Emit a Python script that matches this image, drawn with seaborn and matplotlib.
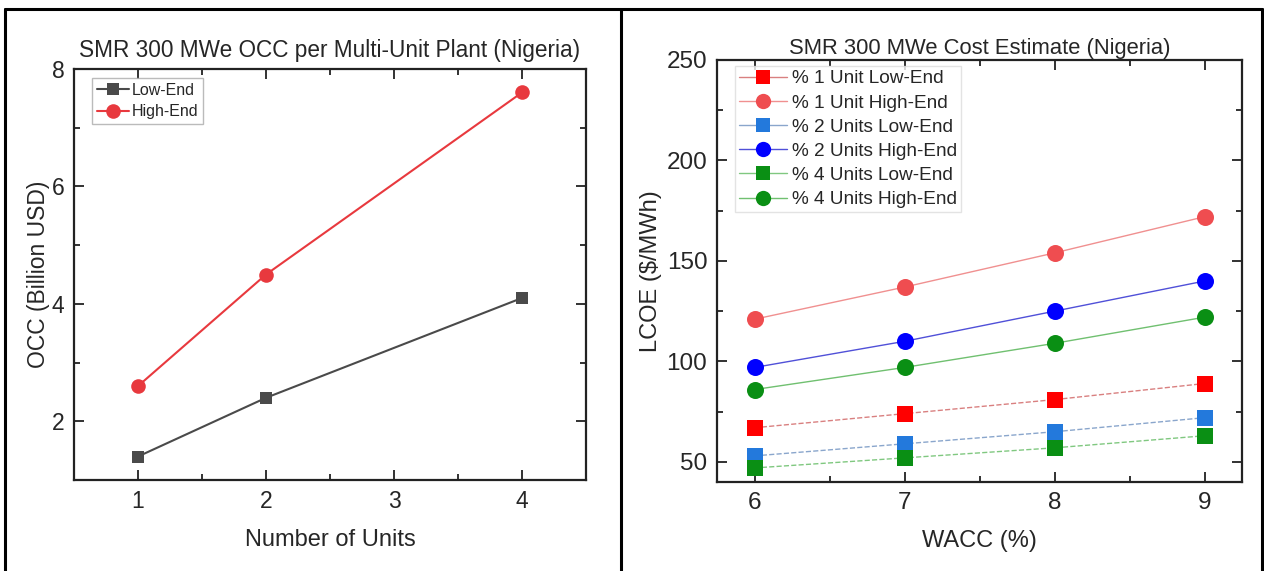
import matplotlib

matplotlib.use("Agg")
import matplotlib.pyplot as plt
from matplotlib.lines import Line2D
from matplotlib.ticker import MultipleLocator
import numpy as np
import pandas as pd
import seaborn as sns

# left panel: OCC per multi-unit plant
units = [1, 2, 4]
occ_low = [1.4, 2.4, 4.1]
occ_high = [2.6, 4.5, 7.6]

# right panel: LCOE vs WACC
wacc = [6, 7, 8, 9]
lcoe_1_low = [67, 74, 81, 89]
lcoe_1_high = [121, 137, 154, 172]
lcoe_2_low = [53, 59, 65, 72]
lcoe_2_high = [97, 110, 125, 140]
lcoe_4_low = [47, 52, 57, 63]
lcoe_4_high = [86, 97, 109, 122]

GREY = "#4a4a4a"
RED = "#e8393e"

W, H = 1264, 571


def style_axes(ax, labelsize):
    for side in ax.spines.values():
        side.set_linewidth(1.6)
        side.set_color("#222222")
    ax.tick_params(which="both", direction="in", top=True, right=True, bottom=True, left=True,
                   width=1.3, color="#222222")
    ax.tick_params(which="major", length=7, labelsize=labelsize, pad=7)
    ax.tick_params(which="minor", length=4)
    ax.grid(False)


def main() -> None:
    sns.set_theme(style="white")
    plt.rcParams["font.family"] = ["Liberation Sans", "DejaVu Sans"]

    fig = plt.figure(figsize=(W / 100, H / 100), dpi=100)
    ax1 = fig.add_axes([74 / W, 1 - 480 / H, (586 - 74) / W, (480 - 69) / H])
    ax2 = fig.add_axes([717 / W, 1 - 482 / H, (1242 - 717) / W, (482 - 60) / H])

    # ---- left panel
    occ = pd.DataFrame({"units": units * 2, "occ": occ_low + occ_high,
                        "case": ["Low-End"] * 3 + ["High-End"] * 3})
    sns.lineplot(data=occ[occ["case"] == "Low-End"], x="units", y="occ", color=GREY, marker="s",
                 markersize=9, markeredgewidth=0, lw=1.5, ax=ax1, label="Low-End")
    sns.lineplot(data=occ[occ["case"] == "High-End"], x="units", y="occ", color=RED, marker="o",
                 markersize=10.5, markeredgewidth=0, lw=1.5, ax=ax1, label="High-End")
    ax1.set_xlim(0.5, 4.5)
    ax1.set_ylim(1, 8)
    ax1.xaxis.set_major_locator(MultipleLocator(1))
    ax1.xaxis.set_minor_locator(MultipleLocator(0.5))
    ax1.yaxis.set_major_locator(MultipleLocator(2))
    ax1.yaxis.set_minor_locator(MultipleLocator(1))
    style_axes(ax1, 16.5)
    ax1.set_xlabel("Number of Units", fontsize=17, labelpad=12)
    ax1.set_ylabel("OCC (Billion USD)", fontsize=16.5, labelpad=1)
    ax1.set_title("SMR 300 MWe OCC per Multi-Unit Plant (Nigeria)", fontsize=16.3, pad=9)
    leg1 = ax1.legend(loc="upper left", bbox_to_anchor=(0.035, 0.978), fontsize=11.5, frameon=True,
                      fancybox=False, edgecolor="#aaaaaa", handlelength=2.0, handletextpad=0.2,
                      borderpad=0.3, labelspacing=0.4, borderaxespad=0)
    leg1.get_frame().set_linewidth(1.0)

    # ---- right panel
    series = [
        ("% 1 Unit Low-End", lcoe_1_low, "#ff0000", "s", "--", "#d98080"),
        ("% 1 Unit High-End", lcoe_1_high, "#ef4d50", "o", "-", "#f09090"),
        ("% 2 Units Low-End", lcoe_2_low, "#2379dc", "s", "--", "#8aa6cc"),
        ("% 2 Units High-End", lcoe_2_high, "#0000ff", "o", "-", "#5050d8"),
        ("% 4 Units Low-End", lcoe_4_low, "#0a8f14", "s", "--", "#80c880"),
        ("% 4 Units High-End", lcoe_4_high, "#0a8f14", "o", "-", "#70c070"),
    ]
    handles = []
    for name, vals, col, mk, ls, lcol in series:
        df = pd.DataFrame({"wacc": wacc, "lcoe": vals})
        sns.lineplot(data=df, x="wacc", y="lcoe", color=lcol, lw=1.0, linestyle=ls, ax=ax2)
        sns.scatterplot(data=df, x="wacc", y="lcoe", color=col, marker=mk,
                        s=150 if mk == "o" else 125, linewidth=0, ax=ax2, zorder=3)
        handles.append(Line2D([], [], color=lcol, lw=1.0, marker=mk, markerfacecolor=col,
                              markeredgewidth=0, markersize=11 if mk == "o" else 10, label=name))
    ax2.set_xlim(5.75, 9.25)
    ax2.set_ylim(40, 250)
    ax2.xaxis.set_major_locator(MultipleLocator(1))
    ax2.xaxis.set_minor_locator(MultipleLocator(0.5))
    ax2.yaxis.set_major_locator(MultipleLocator(50))
    ax2.yaxis.set_minor_locator(MultipleLocator(25))
    style_axes(ax2, 17.5)
    ax2.set_xlabel("WACC (%)", fontsize=17, labelpad=12)
    ax2.set_ylabel("LCOE ($/MWh)", fontsize=17, labelpad=3)
    ax2.set_title("SMR 300 MWe Cost Estimate (Nigeria)", fontsize=15.8, pad=4)
    leg2 = ax2.legend(handles=handles, loc="upper left", bbox_to_anchor=(0.035, 0.985), fontsize=13.7,
                      frameon=True, fancybox=False, edgecolor="#dddddd", handlelength=2.5,
                      handletextpad=0.3, borderpad=0.2, labelspacing=0.36, borderaxespad=0)
    leg2.get_frame().set_linewidth(1.0)

    # table-style cell borders around the two panels
    for x0, y0, x1, y1 in [(5, 9, 1262, 9), (5, 9, 5, 571), (621, 9, 621, 571), (1262, 9, 1262, 571)]:
        fig.add_artist(Line2D([x0 / W, x1 / W], [1 - y0 / H, 1 - y1 / H], color="black", lw=2.2,
                              transform=fig.transFigure))

    fig.savefig("out.png", dpi=100)
    plt.close(fig)


if __name__ == "__main__":
    main()
